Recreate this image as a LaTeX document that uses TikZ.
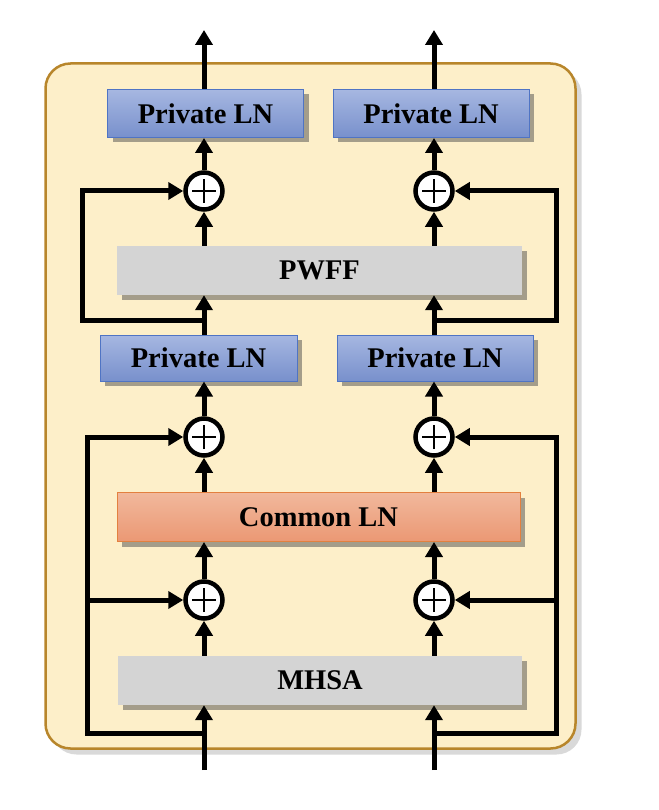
\documentclass[tikz,border=0pt]{standalone}
\usepackage{fontspec}
\setmainfont{Liberation Serif}
\usetikzlibrary{arrows.meta, positioning, shadows, calc}
\definecolor{cFrame}{HTML}{FDEFC9}
\definecolor{cFrameLine}{HTML}{B8862B}
\definecolor{cBlueTop}{HTML}{A6B7E1}
\definecolor{cBlueBot}{HTML}{7890CC}
\definecolor{cBlueLine}{HTML}{4F74C4}
\definecolor{cOrTop}{HTML}{F1B89C}
\definecolor{cOrBot}{HTML}{EB9874}
\definecolor{cOrLine}{HTML}{E3803F}
\definecolor{cGray}{HTML}{D4D4D4}

\begin{document}
\begin{tikzpicture}[x=1pt, y=-1pt,
  blk/.style={minimum height=48pt, inner sep=0pt, font=\fontsize{28.5}{30}\selectfont\bfseries,
    drop shadow={shadow xshift=5pt, shadow yshift=-5pt, opacity=0.5, fill=black!70}},
  priv/.style={blk, draw=cBlueLine, line width=1pt, top color=cBlueTop, bottom color=cBlueBot, minimum width=196pt},
  graybox/.style={blk, fill=cGray, minimum width=404pt, minimum height=49pt},
  add/.style={circle, draw, line width=4.5pt, fill=white, minimum size=37pt, inner sep=0pt,
    path picture={\draw[line width=2.2pt] ($(path picture bounding box.center)+(-12pt,0)$) -- ++(24pt,0)
      ($(path picture bounding box.center)+(0,-12pt)$) -- ++(0,24pt);}},
  arr/.style={-{Triangle[length=15pt, width=17pt]}, line width=5pt}
]
\useasboundingbox (0,0) rectangle (658,810);

% outer frame
\node[draw=cFrameLine, line width=2.5pt, fill=cFrame, rounded corners=25pt,
  minimum width=530pt, minimum height=685pt,
  drop shadow={shadow xshift=6pt, shadow yshift=-6pt, opacity=0.15, fill=black}] (frame) at (310.5,406) {};

% blocks
\node[graybox] (mhsa) at (320,680.5) {MHSA};
\node[blk, draw=cOrLine, line width=1pt, top color=cOrTop, bottom color=cOrBot,
  minimum width=403pt, minimum height=49pt] (common) at (318.5,517) {Common LN};
\node[priv, minimum width=197pt, minimum height=46pt] (lnL) at (198.5,358) {Private LN};
\node[priv, minimum height=46pt] (lnR) at (435,358) {Private LN};
\node[graybox, minimum width=405pt] (pwff) at (319.5,270.5) {PWFF};
\node[priv] (topL) at (205.5,113.5) {Private LN};
\node[priv] (topR) at (431,113.5) {Private LN};

% adders
\node[add] (addLa) at (204,600) {};
\node[add] (addRa) at (434,600) {};
\node[add] (addLb) at (204,437) {};
\node[add] (addRb) at (434,437) {};
\node[add] (addLc) at (204,191) {};
\node[add] (addRc) at (434,191) {};

% free ends
\coordinate (inL) at (204,770);
\coordinate (inR) at (434,770);
\coordinate (outL) at (204,30);
\coordinate (outR) at (434,30);
\coordinate (resL) at (204,733);
\coordinate (resR) at (434,733);
\coordinate (brL) at (87,600);
\coordinate (brR) at (556,600);
\coordinate (skL) at (204,320);
\coordinate (skR) at (434,320);

% main flow
\draw[arr] (inL) -- (inL |- mhsa.south);
\draw[arr] (inR) -- (inR |- mhsa.south);
\draw[arr] (mhsa.north -| addLa) -- (addLa);
\draw[arr] (mhsa.north -| addRa) -- (addRa);
\draw[arr] (addLa) -- (addLa |- common.south);
\draw[arr] (addRa) -- (addRa |- common.south);
\draw[arr] (common.north -| addLb) -- (addLb);
\draw[arr] (common.north -| addRb) -- (addRb);
\draw[arr] (addLb) -- (addLb |- lnL.south);
\draw[arr] (addRb) -- (addRb |- lnR.south);
\draw[arr] (lnL.north -| addLb) -- (addLb |- pwff.south);
\draw[arr] (lnR.north -| addRb) -- (addRb |- pwff.south);
\draw[arr] (pwff.north -| addLc) -- (addLc);
\draw[arr] (pwff.north -| addRc) -- (addRc);
\draw[arr] (addLc) -- (addLc |- topL.south);
\draw[arr] (addRc) -- (addRc |- topR.south);
\draw[arr] (outL |- topL.north) -- (outL);
\draw[arr] (outR |- topR.north) -- (outR);

% residual paths
\draw[arr] (resL) -| (brL |- addLb) -- (addLb);
\draw[arr] (brL) -- (addLa);
\draw[arr] (resR) -| (brR |- addRb) -- (addRb);
\draw[arr] (brR) -- (addRa);
\draw[arr] (skL) -| (82,191) -- (addLc);
\draw[arr] (skR) -| (556,191) -- (addRc);
\end{tikzpicture}
\end{document}
